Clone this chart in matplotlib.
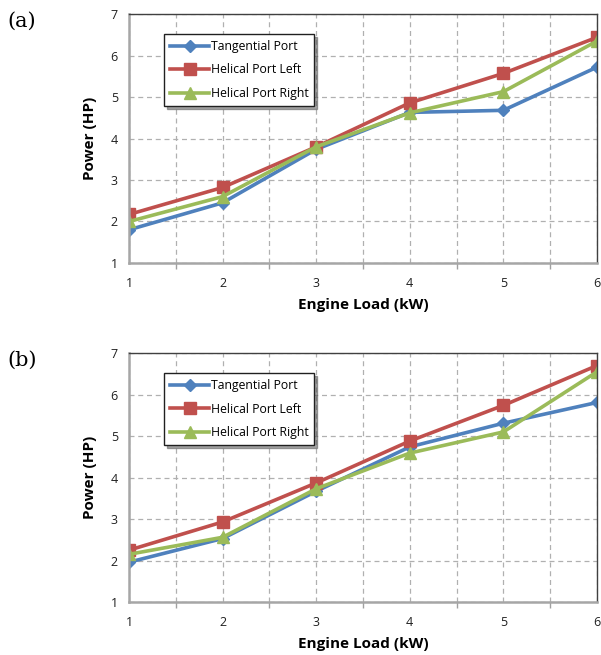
import matplotlib
matplotlib.use("Agg")
import matplotlib.pyplot as plt
from matplotlib.ticker import MultipleLocator

load = [1, 2, 3, 4, 5, 6]
series_names = ["Tangential Port", "Helical Port Left", "Helical Port Right"]

a_tangential = [1.80, 2.45, 3.74, 4.63, 4.68, 5.72]
a_left = [2.17, 2.82, 3.80, 4.86, 5.57, 6.44]
a_right = [2.00, 2.60, 3.80, 4.62, 5.13, 6.35]

b_tangential = [1.96, 2.53, 3.67, 4.74, 5.31, 5.81]
b_left = [2.25, 2.93, 3.87, 4.88, 5.74, 6.70]
b_right = [2.15, 2.56, 3.73, 4.59, 5.10, 6.55]

panel_labels = ["(a)", "(b)"]
xlabel = "Engine Load (kW)"
ylabel = "Power (HP)"

colors = ["#4F81BD", "#C0504D", "#9BBB59"]
markers = ["D", "s", "^"]
msizes = [6, 8, 8]

fig = plt.figure(figsize=(6.01, 6.55), dpi=100)
positions = [[0.2146, 0.5985, 0.7787, 0.380], [0.2146, 0.0809, 0.7787, 0.380]]
panels = [(a_tangential, a_left, a_right), (b_tangential, b_left, b_right)]
label_y = [0.968, 0.450]

for pos, data, plab, ly in zip(positions, panels, panel_labels, label_y):
    ax = fig.add_axes(pos)
    for vals, name, c, m, ms in zip(data, series_names, colors, markers, msizes):
        ax.plot(load, vals, color=c, lw=2.6, marker=m, markersize=ms, label=name, clip_on=True)
    ax.set_xlim(1, 6)
    ax.set_ylim(1, 7)
    ax.xaxis.set_major_locator(MultipleLocator(1))
    ax.xaxis.set_minor_locator(MultipleLocator(0.5))
    ax.yaxis.set_major_locator(MultipleLocator(1))
    ax.grid(True, which="both", axis="x", ls=(0, (4, 3)), color="#B0B0B0", lw=0.9)
    ax.grid(True, which="major", axis="y", ls=(0, (4, 3)), color="#B0B0B0", lw=0.9)
    ax.set_axisbelow(True)
    ax.tick_params(axis="x", which="major", length=0, pad=10, labelsize=9, labelcolor="#202020")
    ax.tick_params(axis="x", which="minor", length=4, direction="out", color="#A0A0A0", width=1)
    ax.tick_params(axis="y", which="major", length=0, pad=8, labelsize=9, labelcolor="#202020")
    for s in ["left", "bottom"]:
        ax.spines[s].set_color("#A6A6A6")
        ax.spines[s].set_linewidth(1.8)
    for s in ["top", "right"]:
        ax.spines[s].set_color("#404040")
        ax.spines[s].set_linewidth(1.0)
    ax.set_xlabel(xlabel, fontsize=11, fontweight="bold", family="Open Sans", labelpad=6)
    ax.set_ylabel(ylabel, fontsize=11, fontweight="bold", family="Open Sans", labelpad=10)
    for t in ax.get_xticklabels() + ax.get_yticklabels():
        t.set_family("Open Sans")
    leg = ax.legend(loc="upper left", bbox_to_anchor=(0.075, 0.92), frameon=True,
                    fancybox=False, shadow=True, handlelength=3.2,
                    borderaxespad=0, labelspacing=0.85, borderpad=0.5,
                    handletextpad=0.1, prop={"family": "Open Sans", "size": 8.8})
    leg.get_frame().set_edgecolor("#202020")
    leg.get_frame().set_linewidth(1.0)
    fig.text(0.012, ly, plab, fontsize=15, family="DejaVu Serif", va="center", ha="left")

fig.savefig("out.png", dpi=100)
